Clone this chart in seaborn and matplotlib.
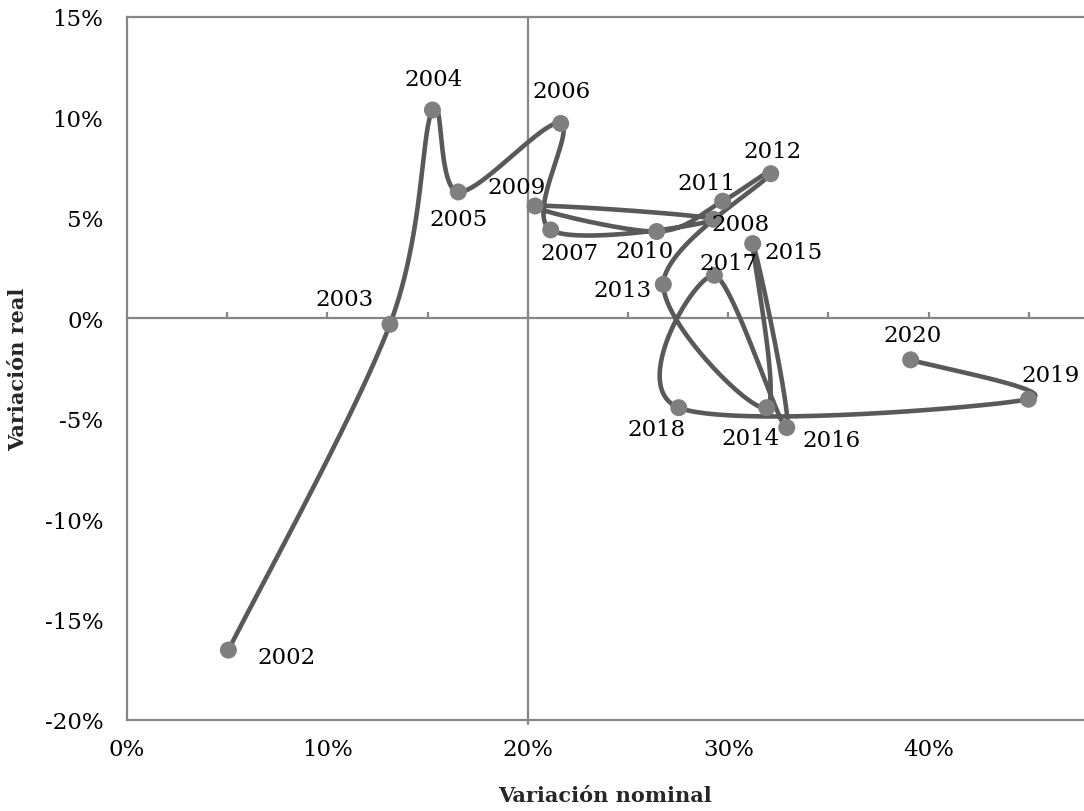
import numpy as np
import pandas as pd
import matplotlib
matplotlib.use("Agg")
import matplotlib.pyplot as plt
import seaborn as sns
from matplotlib.ticker import PercentFormatter, FixedLocator

# Yearly variation: nominal (x) vs real (y), as fractions
years = [2002, 2003, 2004, 2005, 2006, 2007, 2008, 2009, 2010, 2011,
         2012, 2013, 2014, 2015, 2016, 2017, 2018, 2019, 2020]
nominal = [0.0506, 0.1312, 0.1524, 0.1653, 0.2164, 0.2114, 0.2926, 0.2036,
           0.2643, 0.2972, 0.3212, 0.2676, 0.3192, 0.3122, 0.3292, 0.2931,
           0.2753, 0.4498, 0.3910]
real = [-0.1652, -0.0030, 0.1037, 0.0629, 0.0970, 0.0440, 0.0493, 0.0559,
        0.0432, 0.0583, 0.0720, 0.0169, -0.0445, 0.0372, -0.0544, 0.0214,
        -0.0445, -0.0403, -0.0207]

x_ticks = [0.0, 0.10, 0.20, 0.30, 0.40]
y_ticks = [-0.20, -0.15, -0.10, -0.05, 0.0, 0.05, 0.10, 0.15]

df = pd.DataFrame({"year": years, "nominal": nominal, "real": real})

# label offsets in pixels (dx, dy) relative to each point
label_offsets = {
    2002: (58, -7), 2003: (-45, 25), 2004: (1, 31), 2005: (0, -27),
    2006: (1, 32), 2007: (19, -23), 2008: (27, -5), 2009: (-18, 19),
    2010: (-12, -19), 2011: (-16, 18), 2012: (2, 23), 2013: (-41, -6),
    2014: (-16, -30), 2015: (41, -8), 2016: (45, -12), 2017: (14, 12),
    2018: (-22, -21), 2019: (22, 24), 2020: (2, 25),
}


def smooth_path(xs, ys, n=60, f=1.0 / 6.0):
    """Piecewise cubic Bezier through the points (spreadsheet-style smoothing)."""
    pts = np.column_stack([xs, ys])
    m = len(pts)
    out = []
    for i in range(m - 1):
        p0 = pts[i - 1] if i > 0 else pts[i]
        p1 = pts[i]
        p2 = pts[i + 1]
        p3 = pts[i + 2] if i + 2 < m else pts[i + 1]
        b1 = p1 + f * (p2 - p0)
        b2 = p2 - f * (p3 - p1)
        t = np.linspace(0, 1, n)[:, None]
        seg = ((1 - t) ** 3) * p1 + 3 * ((1 - t) ** 2) * t * b1 \
            + 3 * (1 - t) * t ** 2 * b2 + t ** 3 * p2
        out.append(seg if i == 0 else seg[1:])
    return np.vstack(out)


sns.set_theme(style="white")
plt.rcParams["font.family"] = ["DejaVu Serif"]
plt.rcParams["axes.unicode_minus"] = False

fig = plt.figure(figsize=(10.84, 8.12), dpi=100)
fig.patch.set_facecolor("white")

ax_pos = [127 / 1084, 91 / 812, 957 / 1084, 703 / 812]

# Frame axes: carries the outer box and tick labels
frame = fig.add_axes(ax_pos)
# Data axes: crossing axis lines plus the series
ax = frame.twiny()

xlim = (0.0, 0.4775)
ylim = (-0.20, 0.15)
axis_color = "#868686"
label_size = 16.5

frame.set_xlim(*xlim)
frame.set_ylim(*ylim)
frame.xaxis.set_major_locator(FixedLocator(x_ticks))
frame.yaxis.set_major_locator(FixedLocator(y_ticks))
frame.xaxis.set_major_formatter(PercentFormatter(1.0, decimals=0))
frame.yaxis.set_major_formatter(PercentFormatter(1.0, decimals=0))
frame.tick_params(axis="both", length=0, labelsize=label_size, colors="black")
frame.tick_params(axis="x", pad=13)
frame.tick_params(axis="y", pad=17)
for side in ["left", "bottom", "top"]:
    frame.spines[side].set_visible(True)
    frame.spines[side].set_color(axis_color)
    frame.spines[side].set_linewidth(1.6)
frame.spines["right"].set_visible(False)
frame.set_xlabel("Variación nominal", fontsize=15, fontweight="bold")
frame.set_ylabel("Variación real", fontsize=15, fontweight="bold")
frame.xaxis.set_label_coords(0.5, -0.092)
frame.yaxis.set_label_coords(-0.1034, 0.5)
frame.grid(False)

ax.set_xlim(*xlim)
for side in ["left", "right", "top"]:
    ax.spines[side].set_visible(False)
ax.spines["bottom"].set_visible(True)
ax.spines["bottom"].set_position(("data", 0.0))
ax.spines["bottom"].set_color(axis_color)
ax.spines["bottom"].set_linewidth(1.6)
ax.xaxis.set_ticks_position("bottom")
ax.xaxis.set_major_locator(FixedLocator(np.arange(0.05, 0.46, 0.05)))
ax.tick_params(axis="x", direction="in", length=4.5, width=1.6,
               color=axis_color, labelbottom=False, labeltop=False)
ax.set_xlabel("")
ax.axvline(0.20, ymin=-0.006, ymax=1.0, color=axis_color, lw=1.6,
           clip_on=False, zorder=1)
ax.grid(False)

# Smoothed connecting line
curve = smooth_path(df["nominal"].to_numpy(), df["real"].to_numpy())
sns.lineplot(x=curve[:, 0], y=curve[:, 1], sort=False, estimator=None,
             color="#595959", linewidth=3.3, ax=ax, zorder=3)

# Year markers
sns.scatterplot(data=df, x="nominal", y="real", s=150, color="#7f7f7f",
                edgecolor="none", linewidth=0, ax=ax, zorder=4)
ax.set_xlabel("")
ax.set_ylabel("")

for yr, xv, yv in zip(df["year"], df["nominal"], df["real"]):
    dx, dy = label_offsets[yr]
    ax.annotate(str(yr), (xv, yv), xytext=(dx, dy), textcoords="offset pixels",
                ha="center", va="center", fontsize=label_size, color="black",
                zorder=5)

fig.savefig("out.png", dpi=100, facecolor="white")
